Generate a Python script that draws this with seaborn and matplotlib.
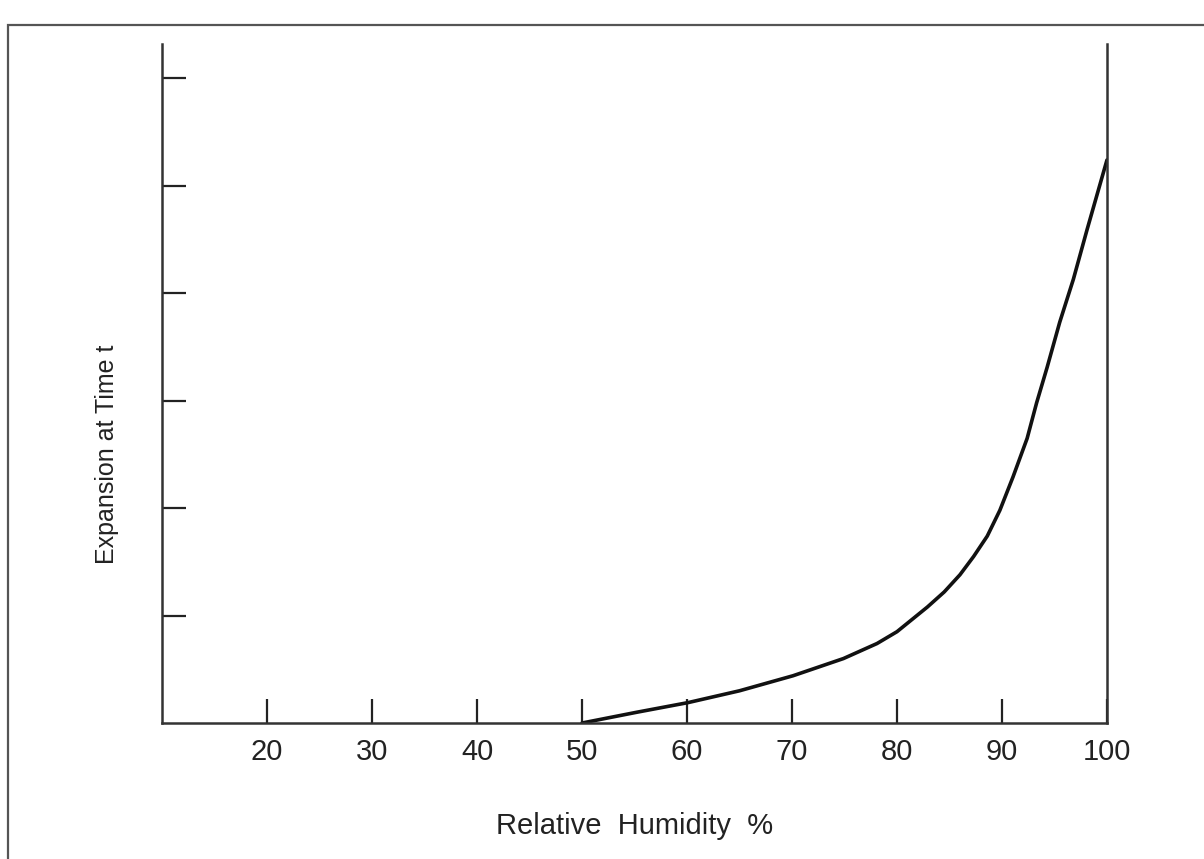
import matplotlib
matplotlib.use("Agg")
import matplotlib.pyplot as plt
import seaborn as sns
import pandas as pd
from matplotlib.patches import Rectangle

# values
humidity = [50, 55.2, 60.1, 65, 70.1, 74.9, 78.1, 80, 82.9, 84.5, 86, 87.3, 88.6,
            89.8, 91.05, 92.4, 93.3, 94.3, 95.5, 96.8, 98.1, 100]
expansion = [0.0, 0.10, 0.19, 0.30, 0.44, 0.60, 0.74, 0.85, 1.08, 1.22, 1.38, 1.55, 1.74,
             1.98, 2.29, 2.65, 2.98, 3.31, 3.73, 4.13, 4.59, 5.24]
x_ticks = [20, 30, 40, 50, 60, 70, 80, 90, 100]
y_ticks = [1, 2, 3, 4, 5, 6]

df = pd.DataFrame({"rh": humidity, "exp": expansion})

sns.set_style("ticks")
plt.rcParams["font.family"] = ["Liberation Sans", "DejaVu Sans"]

fig = plt.figure(figsize=(12.04, 8.59), dpi=100)
ax = fig.add_axes([0.1346, 0.1583, 0.9194 - 0.1346, 0.9488 - 0.1583])

sns.lineplot(data=df, x="rh", y="exp", ax=ax, color="#111111", linewidth=2.6)
ax.lines[0].set_solid_joinstyle("round")

ax.set_xlim(10, 100)
ax.set_ylim(0, 6.32)
ax.set_xticks(x_ticks)
ax.set_yticks(y_ticks)
ax.set_yticklabels([])
ax.tick_params(axis="both", direction="in", length=17, width=1.6, color="#222222")
ax.tick_params(axis="x", labelsize=21, pad=11, labelcolor="#222222")

for side in ["left", "bottom", "right"]:
    ax.spines[side].set_linewidth(1.8)
    ax.spines[side].set_color("#333333")
ax.spines["top"].set_visible(False)

ax.set_xlabel("Relative  Humidity  %", fontsize=21, color="#222222", labelpad=33)
ax.set_ylabel("Expansion at Time t", fontsize=18, color="#222222")
ax.yaxis.set_label_coords(-0.046, 0.395)

# outer frame of the scanned page
fig.patches.append(Rectangle((8 / 1204, -0.01), 1.02, 1 - 25 / 859 + 0.01,
                             transform=fig.transFigure, fill=False,
                             edgecolor="#555555", linewidth=1.6))

fig.savefig("out.png", dpi=100)
